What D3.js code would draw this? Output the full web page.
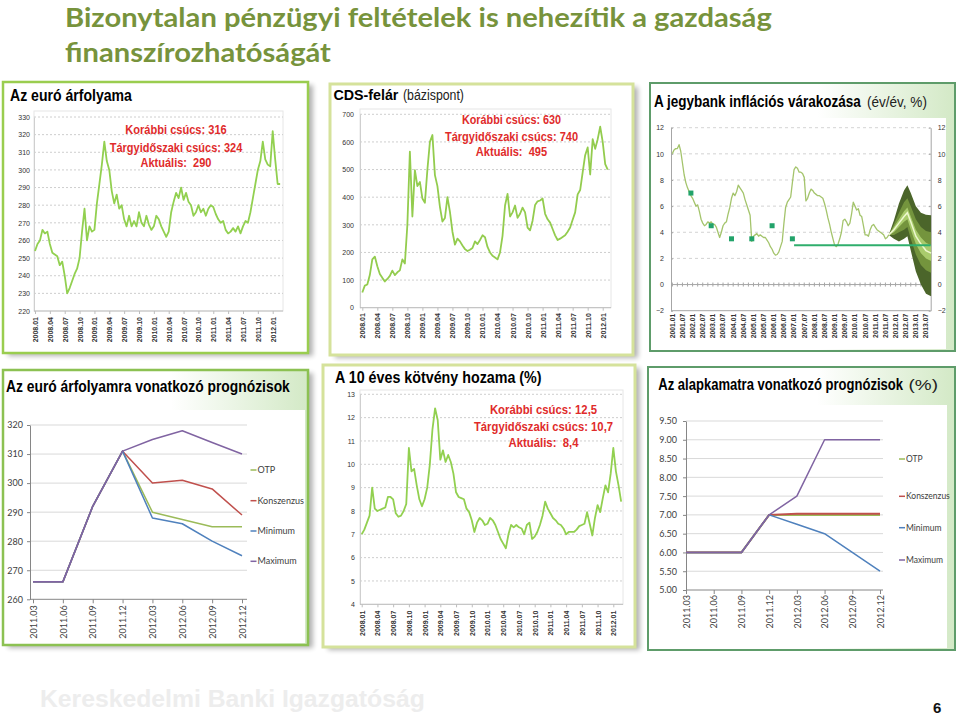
<!DOCTYPE html>
<html><head><meta charset="utf-8">
<script src="https://d3js.org/d3.v7.min.js"></script>
<style>html,body{margin:0;padding:0;background:#fff;overflow:hidden}</style>
</head><body>
<script>
// ================= DATA =================
const mainTitle = ["Bizonytalan pénzügyi feltételek is nehezítik a gazdaság", "finanszírozhatóságát"];

// shared tick labels of the three market series (2008.01 .. 2012.01, quarterly)
const marketTickLabels = ["2008.01","2008.04","2008.07","2008.10","2009.01","2009.04","2009.07","2009.10",
  "2010.01","2010.04","2010.07","2010.10","2011.01","2011.04","2011.07","2011.10","2012.01"];

// EUR/HUF, semi-monthly readings from 2008.01
const eurValues = [254,258,260,266,264,265,258,253,252,251,
  246,248,240,230,233,237,241,244,250,265,
  278,260,268,265,266,281,292,303,316,305,
  300,288,281,286,278,280,272,268,274,268,
  271,268,276,270,268,274,269,266,268,274,
  272,268,265,262,265,276,282,287,284,290,
  283,287,282,280,274,276,280,276,278,274,
  278,280,279,275,272,270,271,266,264,265,
  267,265,268,264,268,271,270,276,284,292,
  300,305,316,306,303,302,322,306,292,292];
const eurTicks = [220,230,240,250,260,270,280,290,300,310,320,330];
const eurNotes = ["Korábbi csúcs: 316", "Tárgyidőszaki csúcs: 324", "Aktuális:  290"];

// CDS spread (basis points), semi-monthly from 2008.01
const cdsValues = [55,80,84,118,175,185,150,122,108,95,
  104,115,134,118,128,135,175,160,300,565,
  330,498,440,455,395,380,500,600,625,480,
  440,365,312,325,400,347,275,228,250,240,
  225,212,205,210,216,240,230,245,262,255,
  220,200,188,182,175,200,260,370,412,330,
  345,370,325,340,362,345,290,280,315,372,
  385,388,395,340,320,308,285,262,245,250,
  256,262,275,290,318,345,410,426,490,552,
  580,482,610,575,610,655,600,520,500];
const cdsTicks = [0,100,200,300,400,500,600,700];
const cdsNotes = ["Korábbi csúcs: 630", "Tárgyidőszaki csúcs: 740", "Aktuális:  495"];

// 10-year bond yield (%), semi-monthly from 2008.01
const bondValues = [7.0,7.2,7.5,7.8,9.0,8.1,8.0,8.05,8.1,8.15,
  8.6,8.6,8.5,7.9,7.75,7.8,8.0,8.3,10.7,9.7,
  9.8,9.1,8.5,8.2,8.5,9.0,10.0,11.5,12.4,11.9,
  10.2,10.6,10.1,10.4,10.1,9.6,8.8,8.6,8.55,8.5,
  8.1,7.95,7.6,7.1,7.5,7.7,7.6,7.4,7.45,7.7,
  7.6,7.4,7.1,6.8,6.6,6.4,7.0,7.4,7.3,7.4,
  7.3,7.25,7.0,7.4,7.5,6.8,6.9,7.1,7.4,7.8,
  8.4,8.1,7.9,7.7,7.6,7.45,7.4,7.25,7.0,7.1,
  7.1,7.1,7.2,7.35,7.4,7.45,7.95,7.45,6.95,7.7,
  8.25,7.95,8.55,9.1,8.8,9.6,10.7,9.7,9.1,8.4];
const bondTicks = [4,5,6,7,8,9,10,11,12,13];
const bondNotes = ["Korábbi csúcs: 12,5", "Tárgyidőszaki csúcs: 10,7", "Aktuális:  8,4"];

// Inflation (y/y %), monthly from 2001.01
const inflValues = [10.0,10.3,10.4,10.4,10.7,10.2,9.3,8.4,7.8,7.4,7.1,6.8,
  6.6,6.3,6.0,6.1,5.6,5.0,4.7,4.5,4.6,4.8,4.7,4.8,
  4.6,4.6,4.4,4.0,3.6,4.0,4.5,4.7,4.8,5.4,5.9,6.6,
  7.0,6.8,7.1,7.6,7.4,7.2,7.0,6.5,6.1,5.7,5.3,3.3,
  3.7,3.8,3.9,3.7,3.8,3.7,3.6,3.6,3.4,3.2,2.9,2.7,
  2.4,2.25,2.3,2.5,2.9,3.3,4.7,5.9,6.3,6.5,6.7,7.8,
  8.8,9.0,8.9,8.6,8.6,8.5,8.2,6.4,6.6,7.0,7.3,7.2,
  7.0,6.9,6.8,6.8,6.7,6.6,6.2,5.7,5.1,4.6,4.0,3.5,
  3.0,2.9,3.1,3.5,4.0,4.9,5.0,4.8,4.5,4.7,5.4,6.3,
  6.0,5.7,5.8,5.3,5.2,4.5,3.8,3.8,3.7,4.2,4.5,4.6,
  4.4,4.2,4.1,4.0,3.9,3.8,3.5,3.6,3.8];
const inflTickLabels = ["2001.01","2001.07","2002.01","2002.07","2003.01","2003.07","2004.01","2004.07",
  "2005.01","2005.07","2006.01","2006.07","2007.01","2007.07","2008.01","2008.07","2009.01","2009.07",
  "2010.01","2010.07","2011.01","2011.07","2012.01","2012.07","2013.01","2013.07"];
const inflTicks = [-2,0,2,4,6,8,10,12];
const targetDates = ["2001.12","2002.12","2003.12","2004.12","2005.12","2006.12"];
const targetValues = [7,4.5,3.5,3.5,4.5,3.5];
const targetLineDates = ["2007.01","2013.10"];
const targetLineValue = 3;
const fanDates = ["2011.09","2011.12","2012.03","2012.06","2012.08","2012.10","2013.01","2013.04","2013.07","2013.10"];
const fanOuterHi = [3.8,4.9,6.2,7.2,7.6,7.0,6.0,5.5,5.35,5.3];
const fanMidHi   = [3.8,4.6,5.5,6.3,6.6,6.0,5.0,4.4,4.1,4.0];
const fanInnerHi = [3.8,4.4,5.0,5.6,5.9,5.2,4.2,3.6,3.2,3.0];
const fanCenter  = [3.8,4.2,4.7,5.2,5.5,4.8,3.7,3.1,2.6,2.4];
const fanInnerLo = [3.8,4.0,4.4,4.8,5.0,4.2,3.1,2.4,2.0,1.8];
const fanMidLo   = [3.8,3.8,4.0,4.2,4.4,3.5,2.3,1.5,1.1,0.9];
const fanOuterLo = [3.8,3.5,3.3,3.5,3.7,2.6,1.0,0.0,-0.7,-0.9];

// Forecast panels
const fcDates = ["2011.03","2011.06","2011.09","2011.12","2012.03","2012.06","2012.09","2012.12"];
const fcNames = ["OTP","Konszenzus","Minimum","Maximum"];
const eurFcOTP   = [266,266,292,311,290,287.5,285,285];
const eurFcKonsz = [266,266,292,311,300,301,298,289];
const eurFcMin   = [266,266,292,311,288,286,280,275];
const eurFcMax   = [266,266,292,311,315,318,314,310];
const eurFcTicks = [260,270,280,290,300,310,320];
const rateFcOTP   = [6,6,6,7,7,7,7,7];
const rateFcKonsz = [6,6,6,7,7.03,7.03,7.03,7.03];
const rateFcMin   = [6,6,6,7,6.75,6.5,6,5.5];
const rateFcMax   = [6,6,6,7,7.5,9,9,9];
const rateFcTicks = [5,5.5,6,6.5,7,7.5,8,8.5,9,9.5];

// ================= DRAWING =================
const ARIAL = "'Liberation Sans', Arial, Helvetica, sans-serif";
const NARROW = "'Liberation Sans Narrow', 'Liberation Sans', Arial, sans-serif";
const CAL = "Lato, 'Open Sans', 'Noto Sans', sans-serif";
const RED = "#E02B2B";
const fcColors = {"OTP":"#9BBB59","Konszenzus":"#C0504D","Minimum":"#4F81BD","Maximum":"#8064A2"};

const svg = d3.select("body").append("svg").attr("width",960).attr("height",717);
const defs = svg.append("defs");
const filt = defs.append("filter").attr("id","shadow").attr("x","-5%").attr("y","-5%").attr("width","115%").attr("height","115%");
filt.append("feGaussianBlur").attr("in","SourceAlpha").attr("stdDeviation",2.5).attr("result","b");
filt.append("feOffset").attr("in","b").attr("dx",5).attr("dy",3).attr("result","o");
filt.append("feComponentTransfer").attr("in","o").attr("result","s").append("feFuncA").attr("type","linear").attr("slope",0.3);
const mg = filt.append("feMerge");
mg.append("feMergeNode").attr("in","s");
mg.append("feMergeNode").attr("in","SourceGraphic");
function hgrad(id, c2){
  const g = defs.append("linearGradient").attr("id",id).attr("x1",0).attr("x2",1).attr("y1",0).attr("y2",0);
  g.append("stop").attr("offset","0%").attr("stop-color","#fff");
  g.append("stop").attr("offset","55%").attr("stop-color","#fff");
  g.append("stop").attr("offset","100%").attr("stop-color",c2);
}
hgrad("gGreen","#D3E9C6");

// text helper: o.len = wanted on-screen width, reached by a horizontal scale of the glyphs
function txt(g,x,y,s,o={}){
  const t = g.append("text").attr("x",0).attr("y",0).text(s)
    .attr("font-family",o.family||NARROW).attr("font-size",o.size||12)
    .attr("font-weight",o.weight||"normal").attr("fill",o.fill||"#000")
    .attr("text-anchor",o.anchor||"start").style("white-space","pre");
  let sx = 1;
  if(o.len){ const nat = t.node().getComputedTextLength(); if(nat>0) sx = o.len/nat; }
  t.attr("transform",`translate(${x},${y}) scale(${sx},1)`);
  return t;
}
function panel(x,y,w,h,stroke,sw,shadow,fill){
  if(shadow) svg.append("rect").attr("x",x).attr("y",y).attr("width",w).attr("height",h).attr("fill","#fff").attr("filter","url(#shadow)");
  svg.append("rect").attr("x",x).attr("y",y).attr("width",w).attr("height",h)
    .attr("fill",fill||"#fff").attr("stroke",stroke).attr("stroke-width",sw);
}
function whiteRect(x,y,w,h){ svg.append("rect").attr("x",x).attr("y",y).attr("width",w).attr("height",h).attr("fill","#fff"); }
function monthIdx(label, base){ const p = label.split(".").map(Number); return (p[0]-base)*12 + (p[1]-1); }

// ---- main title
txt(svg,65,27,mainTitle[0],{family:CAL,size:26,weight:"bold",fill:"#77933C",len:707});
txt(svg,65,62,mainTitle[1],{family:CAL,size:26,weight:"bold",fill:"#77933C",len:266});

// ---- panel frames
panel(3,82,305,271,"#9ACD4F",2.5,true);
panel(330,84,303,271,"#D5E29B",3,true);
panel(650,83,305,268,"#5E9C6A",2,false,"url(#gGreen)"); whiteRect(652,118,294,231);
panel(3,370,305,275,"#8CC152",2.5,true,"url(#gGreen)"); whiteRect(5,410,300,233);
panel(323,365,312,282,"#D5E29B",3,true);
panel(648,367,307,283,"#5E9C6A",2,false,"url(#gGreen)"); whiteRect(651,405,296,243);

// ---- time-series panels
function tsChart(c){
  const g = svg.append("g");
  const x = d3.scaleLinear().domain([0,48]).range(c.xRange);
  const y = d3.scaleLinear().domain(d3.extent(c.yTicks)).range(c.yRange);
  const base = y(c.yTicks[0]);
  g.append("rect").attr("x",c.left).attr("y",c.top).attr("width",c.right-c.left).attr("height",base-c.top)
    .attr("fill","none").attr("stroke","#E6E6E6");
  g.selectAll(".grid").data(c.yTicks.slice(1)).join("line")
    .attr("x1",c.left).attr("x2",c.right).attr("y1",d=>y(d)).attr("y2",d=>y(d))
    .attr("stroke","#C2C2C2").attr("stroke-width",0.8).attr("stroke-dasharray","2,2");
  const ya = g.append("g").attr("transform",`translate(${c.left},0)`)
    .call(d3.axisLeft(y).tickValues(c.yTicks).tickSize(0).tickPadding(c.yPad).tickFormat(d3.format("d")));
  ya.select(".domain").attr("stroke","#CFCFCF");
  ya.selectAll("text").attr("font-family",ARIAL).attr("font-size",7).attr("fill","#333");
  const months = c.tickLabels.map(l=>monthIdx(l,2008));
  const xa = g.append("g").attr("transform",`translate(0,${base})`)
    .call(d3.axisBottom(x).tickValues(months).tickFormat((d,i)=>c.tickLabels[i]).tickSize(3).tickSizeOuter(0));
  xa.select(".domain").remove();
  xa.selectAll("line").attr("stroke","#BDBDBD");
  xa.selectAll("text").attr("transform","rotate(-90)").attr("text-anchor","end")
    .attr("x",-c.xPad).attr("y",0).attr("dy","0.35em")
    .attr("font-family",ARIAL).attr("font-weight","bold").attr("font-size",7).attr("fill","#333");
  g.append("line").attr("x1",c.left).attr("x2",c.right).attr("y1",base).attr("y2",base).attr("stroke","#BDBDBD");
  g.append("path").datum(c.values)
    .attr("d",d3.line().x((d,i)=>x(i/2)).y(d=>y(d)))
    .attr("fill","none").attr("stroke",c.color).attr("stroke-width",1.8).attr("stroke-linejoin","round");
  c.notes.forEach((s,i)=>txt(g,c.noteX,c.noteY[i],s,{size:12.5,weight:"bold",fill:RED,anchor:"middle",len:c.noteLen[i]}));
}

tsChart({xRange:[35,272.7], yRange:[311,117], yTicks:eurTicks, left:34, right:283, top:111, yPad:4, xPad:6,
  tickLabels:marketTickLabels, values:eurValues, color:"#92D050",
  notes:eurNotes, noteX:176, noteY:[134.3,151.7,167.3], noteLen:[101.7,132.7,71]});
tsChart({xRange:[362.3,602.7], yRange:[307.7,114.3], yTicks:cdsTicks, left:360, right:611, top:109, yPad:6, xPad:5.5,
  tickLabels:marketTickLabels, values:cdsValues, color:"#93CC4E",
  notes:cdsNotes, noteX:511.5, noteY:[124.3,141,156], noteLen:[99.3,133.3,71.3]});
tsChart({xRange:[361.7,613.3], yRange:[604.3,394.3], yTicks:bondTicks, left:360, right:623, top:390, yPad:5, xPad:6.4,
  tickLabels:marketTickLabels, values:bondValues, color:"#92D050",
  notes:bondNotes, noteX:543.5, noteY:[414.3,431,447.3], noteLen:[107.3,139.3,70]});

// panel titles
txt(svg,10,101,"Az euró árfolyama",{size:16,weight:"bold",len:122});
txt(svg,333.5,100,"CDS-felár",{size:15.5,weight:"bold",len:65});
txt(svg,403,100,"(bázispont)",{size:14,len:61,fill:"#222"});
txt(svg,654,106.5,"A jegybank inflációs várakozása",{size:16,weight:"bold",len:207});
txt(svg,867,106.5,"(év/év, %)",{size:14.5,len:60,fill:"#222"});
txt(svg,6,391.5,"Az euró árfolyamra vonatkozó prognózisok",{size:16,weight:"bold",len:284});
txt(svg,335,382.7,"A 10 éves kötvény hozama (%)",{size:16,weight:"bold",len:206.7});
txt(svg,658.3,390,"Az alapkamatra vonatkozó prognózisok",{size:16,weight:"bold",len:245});
txt(svg,908.5,390,"(%)",{size:14.5,len:29.5,fill:"#222"});

// ---- inflation panel
(function(){
  const g = svg.append("g");
  const x = d3.scaleLinear().domain([0,150]).range([672.3,926]);
  const y = d3.scaleLinear().domain([-2,12]).range([310.7,127.7]);
  const L = 671, R = 930.7;
  g.selectAll(".grid").data(inflTicks.filter(v=>v!==-2 && v!==0)).join("line")
    .attr("x1",L).attr("x2",R).attr("y1",d=>y(d)).attr("y2",d=>y(d))
    .attr("stroke","#C8C8C8").attr("stroke-width",0.8).attr("stroke-dasharray","3,3");
  const yl = g.append("g").attr("transform",`translate(${L},0)`)
    .call(d3.axisLeft(y).tickValues(inflTicks).tickSize(-2).tickPadding(7).tickSizeOuter(0));
  const yr = g.append("g").attr("transform",`translate(${R},0)`)
    .call(d3.axisRight(y).tickValues(inflTicks).tickSize(-2).tickPadding(7).tickSizeOuter(0));
  [yl,yr].forEach(a=>{a.select(".domain").attr("stroke","#A6A6A6");a.selectAll("line").attr("stroke","#A6A6A6");
    a.selectAll("text").attr("font-family",ARIAL).attr("font-size",7).attr("fill","#333");});
  g.append("line").attr("x1",L).attr("x2",R).attr("y1",y(0)).attr("y2",y(0)).attr("stroke","#A6A6A6");
  g.append("line").attr("x1",L).attr("x2",R).attr("y1",y(-2)).attr("y2",y(-2)).attr("stroke","#A6A6A6");
  g.selectAll(".zt").data(d3.range(0,153,3)).join("line")
    .attr("x1",d=>x(d)).attr("x2",d=>x(d)).attr("y1",y(0)-2).attr("y2",y(0)+2).attr("stroke","#A6A6A6");
  const months = inflTickLabels.map(l=>monthIdx(l,2001));
  g.selectAll(".xl").data(months).join("text")
    .attr("transform",d=>`translate(${x(d)},${y(-2)+3}) rotate(-90)`)
    .attr("text-anchor","end").attr("dy","0.35em")
    .attr("font-family",ARIAL).attr("font-weight","bold").attr("font-size",6.8).attr("fill","#333")
    .text((d,i)=>inflTickLabels[i]);
  const fm = fanDates.map(l=>monthIdx(l,2001));
  const band = (hi,lo)=>d3.area().x((d,i)=>x(fm[i])).y1((d,i)=>y(hi[i])).y0((d,i)=>y(lo[i]))(fm);
  g.append("path").attr("d",band(fanOuterHi,fanOuterLo)).attr("fill","#4B652A");
  g.append("path").attr("d",band(fanMidHi,fanMidLo)).attr("fill","#74943D");
  g.append("path").attr("d",band(fanInnerHi,fanInnerLo)).attr("fill","#A9CB6C");
  g.append("path").datum(fanCenter).attr("d",d3.line().x((d,i)=>x(fm[i])).y(d=>y(d)))
    .attr("fill","none").attr("stroke","#EEF8CF").attr("stroke-width",1.5);
  g.append("path").datum(inflValues).attr("d",d3.line().x((d,i)=>x(i)).y(d=>y(d)))
    .attr("fill","none").attr("stroke","#A4C46C").attr("stroke-width",1.3).attr("stroke-linejoin","round");
  const tl = targetLineDates.map(l=>monthIdx(l,2001));
  g.append("line").attr("x1",x(tl[0])).attr("x2",Math.min(x(tl[1]),R)).attr("y1",y(targetLineValue)).attr("y2",y(targetLineValue))
    .attr("stroke","#2FAE6C").attr("stroke-width",2);
  g.selectAll(".td").data(targetValues).join("rect")
    .attr("x",(d,i)=>x(monthIdx(targetDates[i],2001))-2.5).attr("y",d=>y(d)-2.5)
    .attr("width",5).attr("height",5).attr("fill","#22A36A");
})();

// ---- forecast panels
function fcChart(c){
  const g = svg.append("g");
  const x = d3.scalePoint().domain(fcDates).range(c.xRange);
  const y = d3.scaleLinear().domain(d3.extent(c.yTicks)).range(c.yRange);
  const base = y(c.yTicks[0]);
  g.selectAll(".grid").data(c.yTicks.slice(1)).join("line")
    .attr("x1",c.left).attr("x2",c.right).attr("y1",d=>y(d)).attr("y2",d=>y(d))
    .attr("stroke","#D9D9D9").attr("stroke-width",1);
  const ya = g.append("g").attr("transform",`translate(${c.left},0)`)
    .call(d3.axisLeft(y).tickValues(c.yTicks).tickSize(3).tickPadding(c.yPad).tickSizeOuter(0).tickFormat(c.fmt));
  ya.select(".domain").attr("stroke","#868686"); ya.selectAll("line").attr("stroke","#868686");
  ya.selectAll("text").attr("font-family",CAL).attr("font-size",9).attr("fill","#404040");
  const xa = g.append("g").attr("transform",`translate(0,${base})`)
    .call(d3.axisBottom(x).tickSize(4).tickSizeOuter(0));
  xa.select(".domain").remove();
  xa.selectAll("line").attr("stroke","#868686");
  xa.selectAll("text").attr("transform","rotate(-90)").attr("text-anchor","end")
    .attr("x",-c.xPad).attr("y",0).attr("dy","0.35em")
    .attr("font-family",CAL).attr("font-size",9).attr("fill","#404040");
  g.append("line").attr("x1",c.left).attr("x2",c.right).attr("y1",base).attr("y2",base).attr("stroke","#868686");
  const line = d3.line().x((d,i)=>x(fcDates[i])).y(d=>y(d));
  c.series.forEach((vals,k)=>{
    g.append("path").datum(vals).attr("d",line).attr("fill","none")
      .attr("stroke",fcColors[fcNames[k]]).attr("stroke-width",c.widths[k]).attr("stroke-linejoin","round");
  });
  fcNames.forEach((n,k)=>{
    g.append("line").attr("x1",c.legX).attr("x2",c.legX+6).attr("y1",c.legY[k]).attr("y2",c.legY[k])
      .attr("stroke",fcColors[n]).attr("stroke-width",1.5);
    txt(g,c.legX+7,c.legY[k]+3,n,{family:CAL,size:c.legSize,fill:"#404040"});
  });
}
fcChart({xRange:[33,242], yRange:[599.3,425], yTicks:eurFcTicks, left:30, right:247, yPad:4, xPad:6,
  fmt:d3.format("d"), series:[eurFcOTP,eurFcKonsz,eurFcMin,eurFcMax], widths:[1.5,1.5,1.5,1.5],
  legX:250.5, legY:[470,500.7,531,561.3], legSize:9});
fcChart({xRange:[686,880], yRange:[590,421], yTicks:rateFcTicks, left:686, right:883, yPad:6, xPad:5,
  fmt:d3.format(".2f"), series:[rateFcOTP,rateFcKonsz,rateFcMin,rateFcMax], widths:[2,1.8,1.5,1.5],
  legX:899, legY:[459,496.3,527.7,560], legSize:8.5});

// ---- footer
txt(svg,40,707,"Kereskedelmi Banki Igazgatóság",{size:24,weight:"bold",fill:"#EDEDED",len:385});
txt(svg,933,713,"6",{family:ARIAL,size:15,weight:"bold",fill:"#111"});
</script>
</body></html>
